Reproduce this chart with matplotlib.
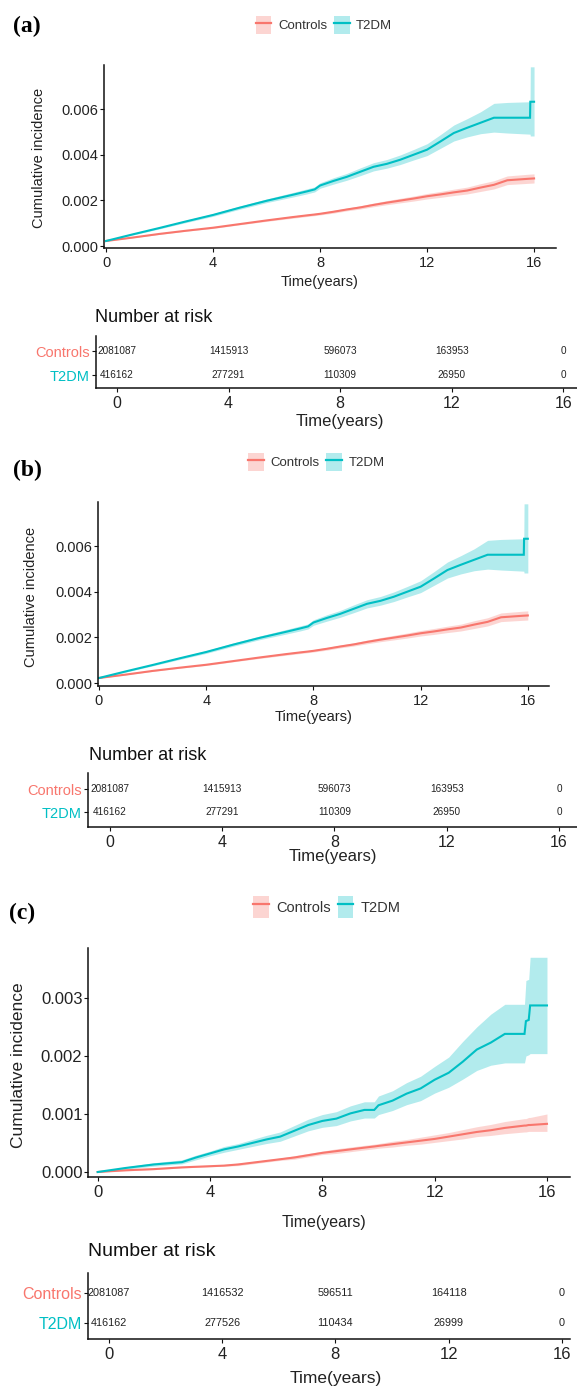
import matplotlib
matplotlib.use('Agg')
import matplotlib.pyplot as plt
from matplotlib.patches import Patch
from matplotlib.lines import Line2D
from matplotlib.legend_handler import HandlerTuple
from matplotlib.ticker import FormatStrFormatter
from matplotlib import font_manager

# ---------------- data ----------------
groups = ['Controls', 'T2DM']

# panels (a) and (b): cumulative incidence (same curves)
time_ab = [0, 1, 2, 3, 4, 5, 6, 7, 7.5, 7.8, 8, 8.5, 9, 9.5, 10, 10.5, 11, 11.5,
           12, 12.5, 13, 13.5, 14, 14.5, 15, 15.85, 15.86, 16]
ctrl_ab = [0.00022, 0.00037, 0.00053, 0.00067, 0.00080, 0.00096, 0.00112, 0.00127,
           0.00134, 0.00138, 0.00141, 0.00150, 0.00160, 0.00169, 0.00180, 0.00190,
           0.00199, 0.00208, 0.00218, 0.00226, 0.00235, 0.00243, 0.00256, 0.00268,
           0.00288, 0.00295, 0.00295, 0.00296]
ctrl_ab_lo = [0.00021, 0.00036, 0.00051, 0.00065, 0.00077, 0.00093, 0.00108, 0.00122,
              0.00129, 0.00133, 0.00136, 0.00144, 0.00154, 0.00162, 0.00172, 0.00181,
              0.00189, 0.00197, 0.00206, 0.00213, 0.00221, 0.00228, 0.00239, 0.00250,
              0.00269, 0.00275, 0.00275, 0.00276]
ctrl_ab_hi = [0.00023, 0.00038, 0.00055, 0.00069, 0.00083, 0.00099, 0.00116, 0.00132,
              0.00139, 0.00143, 0.00146, 0.00156, 0.00166, 0.00176, 0.00188, 0.00199,
              0.00209, 0.00219, 0.00230, 0.00239, 0.00249, 0.00258, 0.00273, 0.00286,
              0.00307, 0.00315, 0.00315, 0.00316]
t2dm_ab = [0.00022, 0.00051, 0.00079, 0.00108, 0.00136, 0.00168, 0.00198, 0.00225,
           0.00239, 0.00248, 0.00265, 0.00285, 0.00303, 0.00325, 0.00347, 0.00360,
           0.00378, 0.00400, 0.00422, 0.00458, 0.00495, 0.00518, 0.00540, 0.00562,
           0.00562, 0.00562, 0.00632, 0.00632]
t2dm_ab_lo = [0.00020, 0.00048, 0.00075, 0.00103, 0.00130, 0.00161, 0.00190, 0.00215,
              0.00228, 0.00237, 0.00253, 0.00271, 0.00288, 0.00308, 0.00329, 0.00341,
              0.00357, 0.00377, 0.00396, 0.00428, 0.00460, 0.00478, 0.00492, 0.00499,
              0.00495, 0.00490, 0.00482, 0.00482]
t2dm_ab_hi = [0.00024, 0.00054, 0.00083, 0.00113, 0.00142, 0.00175, 0.00206, 0.00235,
              0.00250, 0.00259, 0.00277, 0.00299, 0.00318, 0.00342, 0.00365, 0.00379,
              0.00399, 0.00423, 0.00448, 0.00488, 0.00530, 0.00558, 0.00588, 0.00625,
              0.00629, 0.00632, 0.00785, 0.00785]

# panel (c)
time_c = [0, 1, 2, 3, 3.5, 4, 4.5, 5, 5.5, 6, 6.5, 7, 7.5, 8, 8.5, 9, 9.5, 9.85, 10,
          10.5, 11, 11.5, 12, 12.5, 13, 13.5, 14, 14.5, 15.2, 15.25, 15.35, 15.4, 16]
ctrl_c = [0, 0.00003, 0.00005, 0.00008, 0.00009, 0.00010, 0.00011, 0.00013, 0.00016,
          0.00019, 0.00022, 0.00025, 0.00029, 0.00033, 0.00036, 0.00039, 0.00042,
          0.00044, 0.00045, 0.00048, 0.00051, 0.00054, 0.00057, 0.00061, 0.00065,
          0.00069, 0.00072, 0.00076, 0.00080, 0.00080, 0.00081, 0.00081, 0.00083]
ctrl_c_lo = [0, 0.00002, 0.00004, 0.00007, 0.00008, 0.00009, 0.00010, 0.00011, 0.00014,
             0.00017, 0.00020, 0.00022, 0.00026, 0.00030, 0.00032, 0.00035, 0.00038,
             0.00040, 0.00041, 0.00043, 0.00046, 0.00048, 0.00051, 0.00054, 0.00057,
             0.00061, 0.00063, 0.00066, 0.00069, 0.00069, 0.00070, 0.00070, 0.00070]
ctrl_c_hi = [0, 0.00004, 0.00006, 0.00009, 0.00010, 0.00011, 0.00013, 0.00015, 0.00018,
             0.00021, 0.00024, 0.00028, 0.00032, 0.00036, 0.00040, 0.00043, 0.00046,
             0.00048, 0.00049, 0.00053, 0.00056, 0.00060, 0.00064, 0.00068, 0.00073,
             0.00078, 0.00082, 0.00087, 0.00092, 0.00092, 0.00094, 0.00094, 0.00100]
t2dm_c = [0.0, 0.00007, 0.00013, 0.00017, 0.00025, 0.00032, 0.00039, 0.00044, 0.00050,
          0.00056, 0.00061, 0.00071, 0.00081, 0.00088, 0.00092, 0.00101, 0.00107,
          0.00107, 0.00115, 0.00123, 0.00135, 0.00144, 0.00159, 0.00171, 0.00190,
          0.00211, 0.00223, 0.00238, 0.00238, 0.00260, 0.00262, 0.00287, 0.00287]
t2dm_c_lo = [0.0, 0.00005, 0.00010, 0.00014, 0.00021, 0.00028, 0.00034, 0.00039, 0.00044,
             0.00049, 0.00053, 0.00062, 0.00071, 0.00077, 0.00080, 0.00088, 0.00093,
             0.00093, 0.00099, 0.00106, 0.00116, 0.00123, 0.00136, 0.00146, 0.00160,
             0.00175, 0.00184, 0.00188, 0.00188, 0.00200, 0.00202, 0.00204, 0.00204]
t2dm_c_hi = [0.0, 0.00009, 0.00016, 0.00021, 0.00029, 0.00036, 0.00044, 0.00049, 0.00056,
             0.00063, 0.00069, 0.00080, 0.00091, 0.00099, 0.00104, 0.00114, 0.00121,
             0.00121, 0.00131, 0.00140, 0.00154, 0.00165, 0.00182, 0.00198, 0.00225,
             0.00250, 0.00272, 0.00289, 0.00289, 0.00330, 0.00332, 0.00370, 0.00370]

# number at risk tables
risk_times = [0, 4, 8, 12, 16]
risk_ab_ctrl = [2081087, 1415913, 596073, 163953, 0]
risk_ab_t2dm = [416162, 277291, 110309, 26950, 0]
risk_c_ctrl = [2081087, 1416532, 596511, 164118, 0]
risk_c_t2dm = [416162, 277526, 110434, 26999, 0]

x_ticks = [0, 4, 8, 12, 16]
y_ticks_ab = [0.000, 0.002, 0.004, 0.006]
y_ticks_c = [0.000, 0.001, 0.002, 0.003]

# ---------------- style ----------------
RED = '#F8766D'
TEAL = '#00BFC4'
TXT = '#222222'

W, H, DPI = 577, 1389, 100
names = {f.name for f in font_manager.fontManager.ttflist}
SANS = 'Liberation Sans' if 'Liberation Sans' in names else 'DejaVu Sans'
SERIF = 'Liberation Serif' if 'Liberation Serif' in names else 'DejaVu Serif'
plt.rcParams['font.family'] = SANS

fig = plt.figure(figsize=(W / DPI, H / DPI), dpi=DPI)
fig.patch.set_facecolor('white')


def rect(l, t, r, b):
    return [l / W, 1 - b / H, (r - l) / W, (b - t) / H]


def fx(x):
    return x / W


def fy(y):
    return 1 - y / H


def style_axes(ax, fs, lw=1.1):
    for s in ['top', 'right']:
        ax.spines[s].set_visible(False)
    for s in ['left', 'bottom']:
        ax.spines[s].set_linewidth(lw)
        ax.spines[s].set_color('#111111')
    ax.tick_params(axis='both', length=3, width=0.8, color='#111111',
                   labelsize=fs, labelcolor=TXT)


def curve_panel(box, xlim, ylim, yticks, t, c, c_lo, c_hi, d, d_lo, d_hi, fs):
    ax = fig.add_axes(rect(*box))
    ax.fill_between(t, c_lo, c_hi, color=RED, alpha=0.3, lw=0)
    ax.fill_between(t, d_lo, d_hi, color=TEAL, alpha=0.3, lw=0)
    ax.plot(t, c, color=RED, lw=1.5, solid_joinstyle='miter')
    ax.plot(t, d, color=TEAL, lw=1.5, solid_joinstyle='miter')
    ax.set_xlim(*xlim)
    ax.set_ylim(*ylim)
    ax.set_xticks(x_ticks)
    ax.set_yticks(yticks)
    ax.yaxis.set_major_formatter(FormatStrFormatter('%.3f'))
    style_axes(ax, fs)
    ax.tick_params(axis='y', pad=1)
    ax.tick_params(axis='x', pad=3)
    return ax


def legend_at(cx, cy, fs, hl, hh):
    h1 = (Patch(facecolor=RED, alpha=0.3, edgecolor='none'),
          Line2D([], [], color=RED, lw=1.6))
    h2 = (Patch(facecolor=TEAL, alpha=0.3, edgecolor='none'),
          Line2D([], [], color=TEAL, lw=1.6))
    leg = fig.legend([h1, h2], groups, loc='center', bbox_to_anchor=(fx(cx), fy(cy)),
                     ncol=2, frameon=False, prop={'family': SANS, 'size': fs},
                     handlelength=hl, handleheight=hh, handletextpad=0.5,
                     columnspacing=0.5, borderaxespad=0, borderpad=0,
                     handler_map={tuple: HandlerTuple(ndivide=1)})
    for tx in leg.get_texts():
        tx.set_color('#333333')


def risk_table(box, xlim, ylim, ctrl, t2dm, num_fs, lab_fs, tick_fs):
    ax = fig.add_axes(rect(*box))
    for x, v in zip(risk_times, ctrl):
        ax.text(x, 1, f'{v}', ha='center', va='center', fontsize=num_fs, color=TXT)
    for x, v in zip(risk_times, t2dm):
        ax.text(x, 0, f'{v}', ha='center', va='center', fontsize=num_fs, color=TXT)
    ax.set_xlim(*xlim)
    ax.set_ylim(*ylim)
    ax.set_xticks(x_ticks)
    ax.set_yticks([1, 0])
    ax.set_yticklabels(groups)
    style_axes(ax, tick_fs)
    ax.tick_params(axis='y', labelsize=lab_fs, pad=1.5)
    ax.tick_params(axis='x', pad=3)
    for lab, col in zip(ax.get_yticklabels(), [RED, TEAL]):
        lab.set_color(col)
    return ax


# ---------------- panel (a) ----------------
fig.text(fx(13), fy(26), '(a)', family=SERIF, weight='bold', fontsize=17,
         ha='left', va='center')
legend_at(324, 25, 9.5, 1.2, 1.75)
curve_panel((104, 65, 556, 248), (-0.075, 16.82), (-0.0000876, 0.00793), y_ticks_ab,
            time_ab, ctrl_ab, ctrl_ab_lo, ctrl_ab_hi, t2dm_ab, t2dm_ab_lo, t2dm_ab_hi, 10.5)
fig.text(fx(39), fy(158), 'Cumulative incidence', rotation=90, fontsize=10.5,
         ha='center', va='center', color=TXT)
fig.text(fx(320), fy(282), 'Time(years)', fontsize=10.5, ha='center', va='center', color=TXT)

fig.text(fx(95), fy(317), 'Number at risk', fontsize=13, ha='left', va='center', color='#111111')
risk_table((96, 336, 577, 388), (-0.75, 16.49), (-0.54, 1.625),
           risk_ab_ctrl, risk_ab_t2dm, 7.2, 10.5, 11.5)
fig.text(fx(340), fy(422), 'Time(years)', fontsize=12, ha='center', va='center', color=TXT)

# ---------------- panel (b) ----------------
fig.text(fx(13), fy(470), '(b)', family=SERIF, weight='bold', fontsize=17,
         ha='left', va='center')
legend_at(316.5, 462, 9.5, 1.2, 1.75)
curve_panel((98, 502, 549, 686), (-0.037, 16.79), (-0.00013, 0.00793), y_ticks_ab,
            time_ab, ctrl_ab, ctrl_ab_lo, ctrl_ab_hi, t2dm_ab, t2dm_ab_lo, t2dm_ab_hi, 10.5)
fig.text(fx(31), fy(597), 'Cumulative incidence', rotation=90, fontsize=10.5,
         ha='center', va='center', color=TXT)
fig.text(fx(314), fy(717), 'Time(years)', fontsize=10.5, ha='center', va='center', color=TXT)

fig.text(fx(89), fy(755), 'Number at risk', fontsize=13, ha='left', va='center', color='#111111')
risk_table((88, 773, 577, 827), (-0.78, 16.64), (-0.65, 1.70),
           risk_ab_ctrl, risk_ab_t2dm, 7.2, 10.5, 11.5)
fig.text(fx(333), fy(857), 'Time(years)', fontsize=12, ha='center', va='center', color=TXT)

# ---------------- panel (c) ----------------
fig.text(fx(9), fy(913), '(c)', family=SERIF, weight='bold', fontsize=17,
         ha='left', va='center')
legend_at(327, 907, 10.5, 1.05, 1.9)
curve_panel((88, 948, 570, 1177), (-0.345, 16.82), (-0.000086, 0.00386), y_ticks_c,
            time_c, ctrl_c, ctrl_c_lo, ctrl_c_hi, t2dm_c, t2dm_c_lo, t2dm_c_hi, 12)
fig.text(fx(18.5), fy(1065), 'Cumulative incidence', rotation=90, fontsize=12.5,
         ha='center', va='center', color=TXT)
fig.text(fx(324), fy(1222), 'Time(years)', fontsize=11.5, ha='center', va='center', color=TXT)

fig.text(fx(88), fy(1252), 'Number at risk', fontsize=14, ha='left', va='center', color='#111111')
risk_table((88, 1273, 570, 1339), (-0.74, 16.29), (-0.53, 1.67),
           risk_c_ctrl, risk_c_t2dm, 7.8, 11.5, 12)
fig.text(fx(336), fy(1379), 'Time(years)', fontsize=12.5, ha='center', va='center', color=TXT)

fig.savefig('out.png', dpi=DPI, facecolor='white')
